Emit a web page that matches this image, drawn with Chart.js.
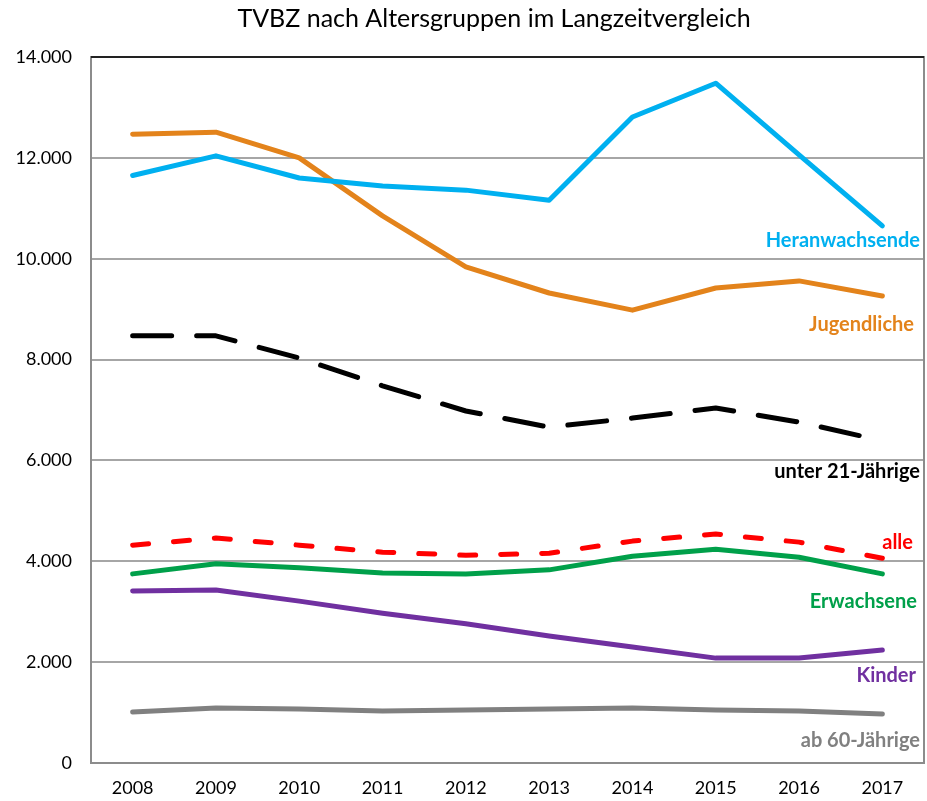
<!DOCTYPE html>
<html>
<head>
<meta charset="utf-8">
<script src="https://cdn.jsdelivr.net/npm/chart.js@4.4.1/dist/chart.umd.min.js"></script>
<style>
  html, body { margin: 0; padding: 0; background: #fff; }
  #wrap { width: 927px; height: 801px; }
</style>
</head>
<body>
<div id="wrap"><canvas id="tvbzChart" width="927" height="801"></canvas></div>
<script>
// Daten
const jahre = ['2008', '2009', '2010', '2011', '2012', '2013', '2014', '2015', '2016', '2017'];
const heranwachsende = [11650, 12040, 11600, 11440, 11360, 11160, 12810, 13480, 12060, 10650];
const jugendliche = [12470, 12510, 12000, 10850, 9840, 9320, 8980, 9420, 9560, 9260];
const unter21 = [8470, 8470, 8030, 7480, 6980, 6660, 6840, 7040, 6760, 6390];
const alle = [4320, 4460, 4320, 4180, 4120, 4160, 4400, 4540, 4380, 4060];
const erwachsene = [3750, 3950, 3870, 3770, 3750, 3830, 4100, 4240, 4080, 3750];
const kinder = [3410, 3430, 3210, 2970, 2760, 2520, 2300, 2080, 2080, 2240];
const ab60 = [1010, 1090, 1070, 1030, 1050, 1070, 1090, 1050, 1030, 970];
const yTicks = [0, 2000, 4000, 6000, 8000, 10000, 12000, 14000];
const titel = 'TVBZ nach Altersgruppen im Langzeitvergleich';

const FONT = 'Lato, "Open Sans", sans-serif';

function fmt(v) {
    return String(v).replace(/\B(?=(\d{3})+(?!\d))/g, '.');
}

// Titel selbst zeichnen (Excel zentriert leicht rechts)
const titlePlugin = {
    id: 'titlePlugin',
    afterDraw(chart) {
        const ctx = chart.ctx;
        ctx.save();
        ctx.font = '25px ' + FONT;
        ctx.fillStyle = '#000';
        ctx.textAlign = 'center';
        ctx.textBaseline = 'middle';
        ctx.fillText(titel, 494, 19);
        ctx.restore();
    }
};

// Beschriftung am Linienende (Abstand in px zum letzten Punkt)
const endLabel = {
    id: 'endLabel',
    afterDatasetsDraw(chart) {
        const ctx = chart.ctx;
        ctx.save();
        ctx.font = 'bold 20px ' + FONT;
        ctx.textAlign = 'right';
        ctx.textBaseline = 'middle';
        chart.data.datasets.forEach((ds, i) => {
            const meta = chart.getDatasetMeta(i);
            const last = meta.data[meta.data.length - 1];
            ctx.fillStyle = ds.borderColor;
            ctx.fillText(ds.label, chart.chartArea.right - 4 - ds.labelShift, last.y + ds.labelOffset);
        });
        ctx.restore();
    }
};

// Rahmen um Zeichenfläche
const plotBorder = {
    id: 'plotBorder',
    afterDraw(chart) {
        const {left, top, right, bottom} = chart.chartArea;
        const ctx = chart.ctx;
        ctx.save();
        ctx.strokeStyle = '#8c8c8c';
        ctx.lineWidth = 2;
        ctx.strokeRect(left, top, right - left, bottom - top);
        ctx.strokeStyle = '#222';
        ctx.beginPath();
        ctx.moveTo(left, top);
        ctx.lineTo(right, top);
        ctx.stroke();
        ctx.restore();
    }
};

function serie(label, data, color, offset, shift, dash) {
    return {
        label: label,
        data: data,
        borderColor: color,
        backgroundColor: color,
        borderWidth: 5,
        borderDash: dash || [],
        borderCapStyle: 'round',
        borderJoinStyle: 'round',
        pointRadius: 0,
        tension: 0,
        fill: false,
        labelOffset: offset,
        labelShift: shift,
    };
}

new Chart(document.getElementById('tvbzChart'), {
    type: 'line',
    data: {
        labels: jahre,
        datasets: [
            serie('Heranwachsende', heranwachsende, '#00B0F0', 15, 0),
            serie('Jugendliche', jugendliche, '#E3831B', 29, 6),
            serie('unter 21-Jährige', unter21, '#000000', 31, 0, [39, 25]),
            serie('alle', alle, '#FF0000', -16, 7, [16, 25]),
            serie('Erwachsene', erwachsene, '#00A04A', 28, 3),
            serie('Kinder', kinder, '#7030A0', 26, 4),
            serie('ab 60-Jährige', ab60, '#808080', 26, 0),
        ],
    },
    options: {
        responsive: false,
        animation: false,
        layout: {padding: {top: 57, right: 3, left: 0, bottom: 0}},
        plugins: {
            legend: {display: false},
            tooltip: {enabled: false},
            title: {display: false},
        },
        scales: {
            x: {
                offset: true,
                grid: {display: false, drawTicks: false},
                border: {display: false},
                afterFit(axis) { axis.height = 38; },
                ticks: {color: '#000', font: {family: FONT, size: 18}, padding: 14, maxRotation: 0},
            },
            y: {
                min: 0,
                max: 14000,
                afterBuildTicks(axis) {
                    axis.ticks = yTicks.map(v => ({value: v}));
                },
                afterFit(axis) { axis.width = 91; },
                grid: {color: '#a6a6a6', lineWidth: 2, drawTicks: false},
                border: {display: false},
                ticks: {
                    color: '#000',
                    font: {family: FONT, size: 18},
                    padding: 19,
                    callback: v => fmt(v),
                },
            },
        },
    },
    plugins: [endLabel, plotBorder, titlePlugin],
});
</script>
</body>
</html>
